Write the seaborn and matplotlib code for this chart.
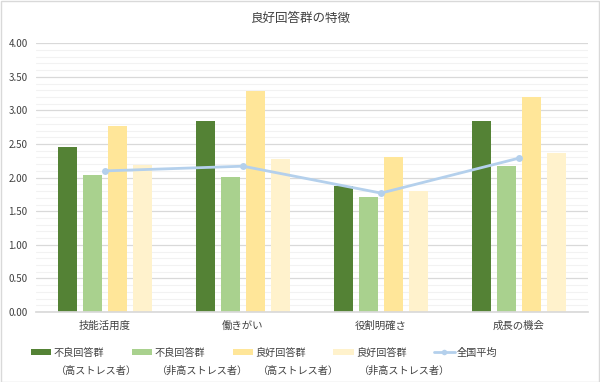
import pandas as pd
import matplotlib.pyplot as plt
import seaborn as sns
from matplotlib.patches import Rectangle
from matplotlib.lines import Line2D
from matplotlib.ticker import MultipleLocator

# データ
categories = ['技能活用度', '働きがい', '役割明確さ', '成長の機会']
groups = ['不良回答群（高ストレス者）', '不良回答群（非高ストレス者）',
          '良好回答群（高ストレス者）', '良好回答群（非高ストレス者）']
bad_high = [2.45, 2.84, 1.87, 2.84]
bad_normal = [2.04, 2.01, 1.71, 2.17]
good_high = [2.77, 3.29, 2.30, 3.20]
good_normal = [2.19, 2.27, 1.80, 2.36]
national_avg = [2.10, 2.17, 1.77, 2.29]

legend_line1 = ['不良回答群', '不良回答群', '良好回答群', '良好回答群', '全国平均']
legend_line2 = ['（高ストレス者）', '（非高ストレス者）', '（高ストレス者）', '（非高ストレス者）']

colors = ['#548235', '#A9D18E', '#FFE699', '#FFF2CC']
line_color = '#B4D0EC'

rows = []
for g, vals in zip(groups, [bad_high, bad_normal, good_high, good_normal]):
    for c, v in zip(categories, vals):
        rows.append({'category': c, 'group': g, 'value': v})
df = pd.DataFrame(rows)

sns.set_theme(style='white')
plt.rcParams['font.family'] = ['Noto Sans CJK JP', 'DejaVu Sans']

fig = plt.figure(figsize=(6.0, 3.82), dpi=100)
ax = fig.add_axes([0.06, 0.183, 0.92, 0.704])

sns.barplot(data=df, x='category', y='value', hue='group', order=categories,
            hue_order=groups, palette=colors, width=0.72, gap=0.23,
            saturation=1, legend=False, ax=ax)
for patch in ax.patches:
    patch.set_linewidth(0)

sns.lineplot(x=categories, y=national_avg, color=line_color, linewidth=2,
             marker='o', markersize=5, markeredgewidth=0, ax=ax, zorder=5)

ax.set_ylim(0, 4)
ax.set_xlim(-0.5, 3.5)
ax.yaxis.set_major_locator(MultipleLocator(0.5))
ax.yaxis.set_minor_locator(MultipleLocator(0.1))
ax.set_yticklabels([f'{v:.2f}' for v in ax.get_yticks()])
ax.grid(axis='y', which='major', color='#D9D9D9', linewidth=0.9, zorder=0)
ax.grid(axis='y', which='minor', color='#F2F2F2', linewidth=0.8, zorder=0)
ax.set_axisbelow(True)
for s in ['top', 'right', 'left']:
    ax.spines[s].set_visible(False)
ax.spines['bottom'].set_color('#D9D9D9')
ax.tick_params(axis='both', length=0, labelsize=7, colors='#404040', pad=6)
ax.tick_params(axis='x', labelsize=7.5)
ax.set_xlabel('')
ax.set_ylabel('')

fig.text(0.5, 0.953, '良好回答群の特徴', ha='center', va='center',
         fontsize=9, color='#404040')

# 凡例
handles = [Rectangle((0, 0), 1, 1, facecolor=c, edgecolor='none') for c in colors]
handles.append(Line2D([], [], color=line_color, linewidth=2, marker='o',
                      markersize=4, markeredgewidth=0))
leg = fig.legend(handles, legend_line1, loc='center left',
                 bbox_to_anchor=(0.045, 0.077), ncol=5, frameon=False,
                 fontsize=7.3, handlelength=2.0, handleheight=0.55,
                 handletextpad=0.2, columnspacing=2.75, borderaxespad=0)
for t in leg.get_texts():
    t.set_color('#404040')

fig.canvas.draw()
inv = fig.transFigure.inverted()
for t, label in zip(leg.get_texts(), legend_line2):
    bb = t.get_window_extent()
    x0, _ = inv.transform((bb.x0, bb.y0))
    fig.text(x0 + 0.005, 0.03, label, ha='left', va='center',
             fontsize=7.3, color='#404040')

fig.patches.append(Rectangle((0.001, 0.001), 0.997, 0.997, transform=fig.transFigure,
                             fill=False, edgecolor='#D9D9D9', linewidth=1))

fig.savefig('out.png', dpi=100)
